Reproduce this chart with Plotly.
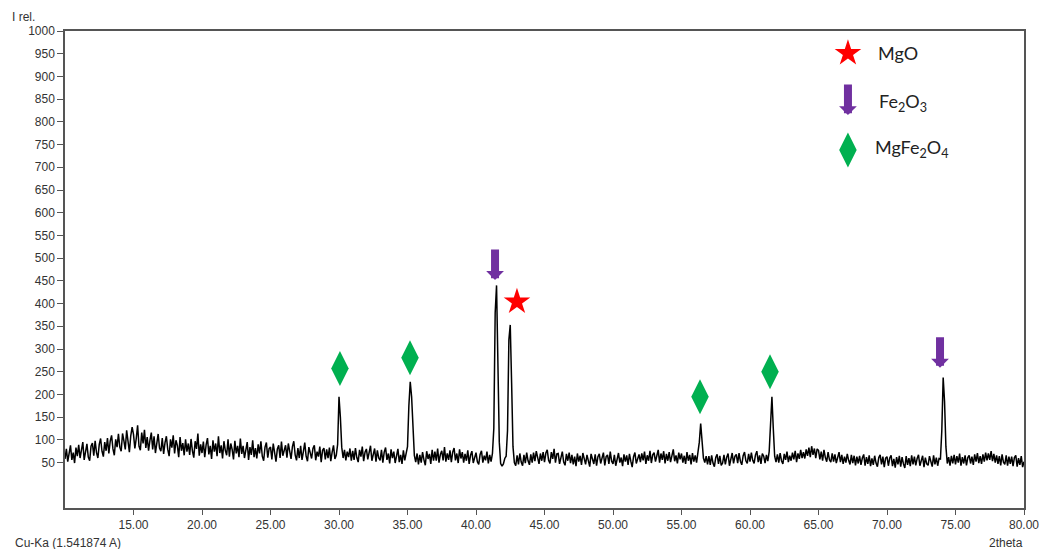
import plotly.graph_objects as go

# Scan grid: 2theta from 10.00 to 80.00 deg in 0.10 deg steps
TWO_THETA_START = 10.0
TWO_THETA_STEP = 0.1

# Relative intensity, one row per degree (x.0 ... x.9)
intensity_10_20 = [
    58, 80, 52, 75, 88, 56, 72, 49, 83, 64,
    89, 60, 82, 95, 56, 77, 91, 62, 54, 86,
    93, 65, 98, 72, 60, 90, 103, 75, 63, 95,
    76, 104, 70, 97, 110, 80, 66, 101, 84, 113,
    84, 75, 114, 98, 79, 121, 90, 73, 109, 128,
    112, 81, 103, 132, 86, 77, 116, 92, 122, 82,
    106, 76, 99, 116, 79, 108, 71, 96, 113, 82,
    75, 104, 69, 94, 108, 79, 64, 101, 83, 110,
    70, 99, 88, 62, 106, 76, 93, 66, 101, 74,
    92, 67, 102, 76, 61, 97, 80, 114, 65, 90,
]
intensity_20_30 = [
    71, 96, 62, 89, 104, 68, 87, 58, 99, 74,
    92, 64, 108, 71, 88, 59, 97, 77, 66, 101,
    63, 92, 79, 57, 98, 70, 87, 62, 103, 69,
    87, 60, 80, 95, 56, 84, 67, 99, 62, 82,
    59, 90, 70, 97, 64, 54, 84, 94, 61, 81,
    84, 57, 92, 68, 52, 80, 88, 60, 96, 65,
    79, 88, 61, 92, 75, 58, 85, 97, 67, 55,
    82, 60, 87, 56, 74, 94, 64, 53, 84, 70,
    59, 81, 88, 55, 74, 63, 85, 51, 77, 82,
    57, 79, 60, 83, 53, 73, 88, 58, 66, 90,
]
intensity_30_40 = [
    195, 150, 84, 60, 78, 55, 74, 62, 81, 54,
    76, 56, 82, 61, 51, 78, 63, 85, 53, 73,
    80, 57, 74, 87, 54, 71, 81, 52, 77, 60,
    55, 78, 50, 73, 83, 56, 70, 48, 79, 60,
    74, 49, 68, 80, 51, 67, 47, 77, 55, 71,
    85, 175, 228, 195, 120, 66, 51, 70, 46, 67,
    50, 73, 56, 44, 75, 58, 69, 47, 78, 54,
    74, 54, 81, 50, 68, 76, 55, 84, 52, 70,
    56, 77, 51, 73, 82, 55, 70, 49, 79, 59,
    73, 50, 69, 54, 77, 47, 66, 75, 49, 64,
]
intensity_40_50 = [
    72, 52, 46, 68, 76, 50, 65, 55, 74, 48,
    67, 52, 70, 125, 380, 440, 250, 95, 48, 42,
    47, 59, 64, 120, 320, 353, 225, 85, 50, 43,
    66, 46, 70, 51, 43, 67, 49, 72, 54, 45,
    68, 50, 72, 53, 75, 58, 47, 70, 54, 73,
    51, 71, 78, 55, 48, 73, 58, 80, 50, 69,
    70, 47, 65, 74, 51, 44, 69, 54, 72, 49,
    67, 46, 63, 42, 70, 52, 65, 45, 71, 54,
    46, 67, 52, 41, 69, 55, 47, 68, 43, 63,
    69, 48, 62, 72, 44, 63, 67, 47, 74, 53,
]
intensity_50_60 = [
    47, 67, 43, 62, 71, 50, 61, 42, 68, 52,
    66, 45, 69, 53, 40, 63, 72, 48, 61, 68,
    51, 70, 55, 74, 47, 66, 54, 76, 49, 67,
    72, 52, 65, 78, 50, 70, 56, 75, 48, 69,
    54, 73, 51, 67, 79, 53, 66, 48, 72, 57,
    70, 50, 65, 47, 73, 54, 67, 46, 71, 52,
    66, 50, 68, 95, 136, 98, 60, 50, 64, 46,
    64, 45, 66, 49, 41, 61, 68, 47, 65, 44,
    49, 67, 46, 62, 70, 43, 60, 71, 48, 64,
    68, 49, 71, 53, 45, 65, 73, 54, 48, 69,
]
intensity_60_70 = [
    52, 72, 55, 48, 67, 75, 51, 66, 47, 70,
    64, 49, 67, 53, 74, 150, 195, 125, 64, 51,
    68, 50, 71, 54, 47, 69, 56, 74, 51, 65,
    54, 72, 57, 76, 51, 70, 58, 78, 60, 73,
    59, 79, 65, 83, 62, 86, 67, 81, 60, 80,
    77, 57, 74, 54, 78, 61, 52, 73, 56, 51,
    70, 52, 68, 49, 65, 73, 51, 67, 47, 63,
    50, 69, 55, 46, 67, 49, 65, 44, 63, 48,
    65, 45, 60, 68, 43, 62, 47, 66, 42, 59,
    45, 65, 49, 41, 61, 67, 46, 63, 40, 60,
]
intensity_70_80 = [
    63, 43, 60, 66, 42, 58, 39, 62, 46, 65,
    41, 62, 47, 38, 64, 45, 60, 42, 66, 46,
    63, 44, 59, 67, 43, 57, 65, 40, 61, 47,
    44, 64, 49, 41, 66, 46, 61, 43, 59, 58,
    120, 237, 185, 85, 48, 62, 43, 65, 48, 67,
    46, 64, 50, 70, 43, 62, 48, 66, 44, 61,
    66, 48, 63, 45, 68, 52, 71, 49, 64, 47,
    68, 52, 72, 55, 70, 56, 75, 53, 69, 50,
    66, 47, 64, 44, 68, 51, 46, 66, 43, 63,
    47, 63, 42, 61, 66, 41, 60, 45, 64, 40,
    52,
]

intensity = (intensity_10_20 + intensity_20_30 + intensity_30_40 + intensity_40_50
             + intensity_50_60 + intensity_60_70 + intensity_70_80)
two_theta = [round(TWO_THETA_START + i * TWO_THETA_STEP, 2) for i in range(len(intensity))]

# Phase identification marks (2theta, height of the symbol)
mgfe2o4_2theta = [30.07, 35.18, 56.35, 61.46]
mgfe2o4_level = [257, 281, 195, 250]
fe2o3_2theta = [41.39, 73.87]
fe2o3_level = [452, 259]          # arrow tip
mgo_2theta = [42.99]
mgo_level = [404]

x_ticks = [15, 20, 25, 30, 35, 40, 45, 50, 55, 60, 65, 70, 75, 80]
y_ticks = list(range(50, 1001, 50))

GREEN = "#00B050"
PURPLE = "#7030A0"
RED = "#FF0000"
AXIS = "#555555"
TEXT = "#333333"

fig = go.Figure()

fig.add_trace(go.Scatter(
    x=two_theta, y=intensity, mode="lines",
    line=dict(color="black", width=1.5), hoverinfo="skip", showlegend=False,
))

fig.add_trace(go.Scatter(
    x=mgfe2o4_2theta, y=mgfe2o4_level, mode="markers",
    marker=dict(symbol="diamond-tall", size=25, color=GREEN, line=dict(width=0)),
    showlegend=False, cliponaxis=False,
))
fig.add_trace(go.Scatter(
    x=mgo_2theta, y=mgo_level, mode="markers",
    marker=dict(symbol="star", size=20, color=RED, line=dict(width=0)),
    showlegend=False, cliponaxis=False,
))

annotations = []


def down_arrow(x, y):
    return dict(x=x, y=y, xref="x", yref="y", text="", showarrow=True,
                ax=0, ay=-32, arrowhead=1, arrowsize=0.37, arrowwidth=8,
                arrowcolor=PURPLE, standoff=0)


for xa, ya in zip(fe2o3_2theta, fe2o3_level):
    annotations.append(down_arrow(xa, ya))

# Key in the upper right corner
KEY_X = 67.15
fig.add_trace(go.Scatter(
    x=[KEY_X], y=[951], mode="markers",
    marker=dict(symbol="star", size=20, color=RED, line=dict(width=0)),
    showlegend=False,
))
fig.add_trace(go.Scatter(
    x=[KEY_X], y=[738], mode="markers",
    marker=dict(symbol="diamond-tall", size=25, color=GREEN, line=dict(width=0)),
    showlegend=False,
))
annotations.append(down_arrow(KEY_X, 815))

key_font = dict(family="Lato, Carlito, Calibri, sans-serif", size=18, color="#222222")
for label, xk, yk in [("MgO", 69.2, 951),
                      ("Fe<sub>2</sub>O<sub>3</sub>", 69.3, 843),
                      ("MgFe<sub>2</sub>O<sub>4</sub>", 68.98, 742)]:
    annotations.append(dict(x=xk, y=yk, xref="x", yref="y", text=label, showarrow=False,
                            xanchor="left", yanchor="middle", font=key_font))

small_font = dict(family="Liberation Sans, Arial, sans-serif", size=12, color=TEXT)
annotations.append(dict(x=-0.0574, y=1.029, xref="paper", yref="paper", text="I rel.",
                        showarrow=False, xanchor="left", yanchor="middle", font=small_font))
annotations.append(dict(x=-0.0542, y=-0.073, xref="paper", yref="paper",
                        text="Cu-Ka (1.541874 A)", showarrow=False,
                        xanchor="left", yanchor="middle", font=small_font))
annotations.append(dict(x=1.001, y=-0.073, xref="paper", yref="paper", text="2theta",
                        showarrow=False, xanchor="right", yanchor="middle", font=small_font))

fig.update_layout(
    width=1040, height=549,
    margin=dict(l=65, r=16, t=31, b=41, autoexpand=False),
    paper_bgcolor="white", plot_bgcolor="white",
    font=small_font,
    showlegend=False,
    annotations=annotations,
)
fig.update_xaxes(
    range=[10, 80], tickvals=x_ticks, tickformat=".2f", automargin=False,
    showgrid=False, zeroline=False,
    showline=True, mirror=True, linecolor=AXIS, linewidth=1.5,
    ticks="outside", ticklen=5, tickcolor=AXIS, tickwidth=1,
    tickfont=small_font,
)
fig.update_yaxes(
    range=[-50, 1000], tickvals=y_ticks, automargin=False,
    showgrid=False, zeroline=False,
    showline=True, mirror=True, linecolor=AXIS, linewidth=1.5,
    ticks="outside", ticklen=6, tickcolor=AXIS, tickwidth=1,
    tickfont=small_font,
)

fig.write_html("out.html")
